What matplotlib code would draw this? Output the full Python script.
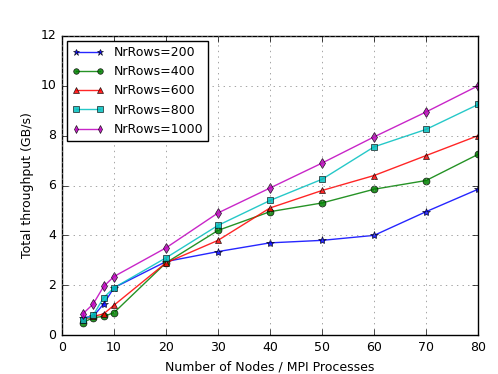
import matplotlib
matplotlib.use('Agg')
import matplotlib.pyplot as plt

plt.style.use('classic')

nodes = [4, 6, 8, 10, 20, 30, 40, 50, 60, 70, 80]
rows_200 = [0.7, 0.75, 1.25, 1.9, 2.95, 3.35, 3.7, 3.8, 4.0, 4.95, 5.85]
rows_400 = [0.5, 0.7, 0.75, 0.9, 2.9, 4.2, 4.95, 5.3, 5.85, 6.2, 7.25]
rows_600 = [0.6, 0.75, 0.85, 1.2, 2.9, 3.8, 5.1, 5.8, 6.4, 7.2, 8.0]
rows_800 = [0.6, 0.8, 1.5, 1.9, 3.1, 4.4, 5.4, 6.25, 7.55, 8.25, 9.25]
rows_1000 = [0.85, 1.25, 1.95, 2.35, 3.5, 4.9, 5.9, 6.9, 7.95, 8.95, 10.0]

series = [
    ('NrRows=200', rows_200, 'b', '*', 6),
    ('NrRows=400', rows_400, 'g', 'o', 5),
    ('NrRows=600', rows_600, 'r', '^', 5),
    ('NrRows=800', rows_800, 'c', 's', 5),
    ('NrRows=1000', rows_1000, 'm', 'd', 5),
]

fig = plt.figure(figsize=(4.98, 3.74), dpi=100, facecolor='white')
ax = fig.add_axes([0.1245, 0.104, 0.8355, 0.8])

for label, vals, color, marker, ms in series:
    ax.plot(nodes, vals, color=color, marker=marker, markersize=ms,
            label=label, linewidth=1, alpha=0.85)

ax.set_xlim(0, 80)
ax.set_ylim(0, 12)
ax.set_xticks(range(0, 81, 10))
ax.set_yticks(range(0, 13, 2))
ax.tick_params(labelsize=9)
ax.grid(True, linestyle=':', color='gray')
ax.set_xlabel('Number of Nodes / MPI Processes', fontsize=9)
ax.set_ylabel('Total throughput (GB/s)', fontsize=9)
leg = ax.legend(loc='upper left', fontsize=9, numpoints=2, handlelength=2.5,
                markerscale=0.8, borderaxespad=0.4)

fig.savefig('out.png', dpi=100, facecolor='white')
